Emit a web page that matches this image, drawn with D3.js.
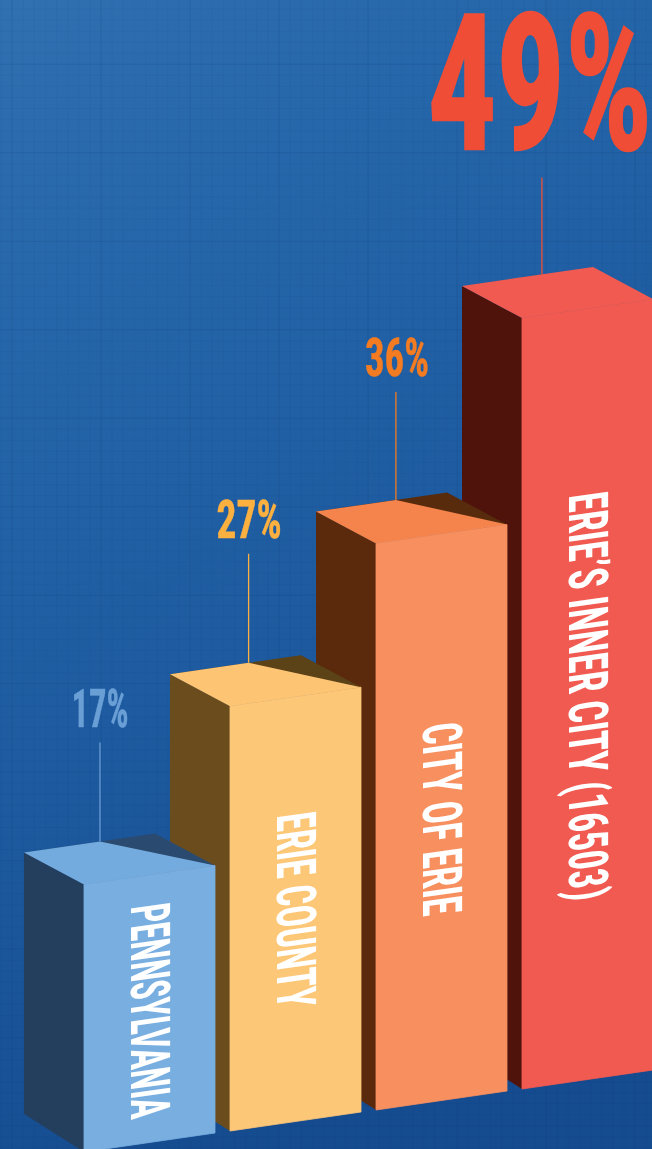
<!DOCTYPE html>
<html><head><meta charset="utf-8">
<script src="https://cdn.jsdelivr.net/npm/d3@7"></script>
<style>html,body{margin:0;padding:0;background:#1c5a9f}svg{display:block;filter:blur(0.35px)}</style>
</head><body><div id="chart"></div>
<script>
const categories = ["Pennsylvania", "Erie County", "City of Erie", "Inner City"];
const barLabels = ["PENNSYLVANIA", "ERIE COUNTY", "CITY OF ERIE", "ERIE\u2019S INNER CITY (16503)"];
const values = [17, 27, 36, 49];
const valueLabels = ["17%", "27%", "36%", "49%"];
const frontColors = ["#78aee0", "#fdc778", "#f78f5f", "#f15a50"];
const topColors = ["#74abdf", "#fdc473", "#f5844c", "#f15a50"];
const sideColors = ["#243f5e", "#6b4d1d", "#5b2a0c", "#4f130c"];
const wedgeColors = ["#2b4a6f", "#5c4217", "#582b0d", null];
const labelColors = ["#6a9fd6", "#fbb040", "#f37b21", "#f04d36"];

const W = 652, H = 1149;
const svg = d3.select("#chart").append("svg").attr("width", W).attr("height", H);
const defs = svg.append("defs");

// background
const bg = defs.append("linearGradient").attr("id", "bg")
  .attr("x1", 0).attr("y1", 0).attr("x2", 0.35).attr("y2", 1);
[[0, "#3170b1"], [0.25, "#2567aa"], [0.6, "#1e5ba0"], [1, "#154b8f"]].forEach(s =>
  bg.append("stop").attr("offset", s[0]).attr("stop-color", s[1]));
svg.append("rect").attr("width", W).attr("height", H).attr("fill", "url(#bg)");

const grid = svg.append("g").attr("stroke", "#123f7c").attr("fill", "none");
d3.range(1, W, 11.125).forEach((x, i) => grid.append("line").attr("x1", x).attr("x2", x).attr("y1", 0).attr("y2", H)
  .attr("stroke-opacity", i % 8 === 1 ? 0.2 : 0.05));
d3.range(9, H, 11.06).forEach((y, i) => grid.append("line").attr("y1", y).attr("y2", y).attr("x1", 0).attr("x2", W)
  .attr("stroke-opacity", i % 8 === 5 ? 0.2 : 0.05));

// scales
const xFront = d3.scalePoint().domain(categories).range([84, 522]);
const yBase = d3.scalePoint().domain(categories).range([1152, 1089]);
const h = d3.scaleLinear().domain([0, 49]).range([0, 771]);

// oblique projection: u across the front, d towards the back
const WIDTH = 131, RISE = 19, DX = 60, DY = 32, BASE_DY = 38;
const RIDGES = [0.58, 0.6, 0.61, 0.61];
const topPt = (c, v, u, d) => [xFront(c) + u * WIDTH - d * DX, yBase(c) - h(v) - u * RISE - d * DY];
const basePt = (c, u, d) => [xFront(c) + u * WIDTH - d * DX, yBase(c) - u * RISE - d * BASE_DY];
const poly = pts => pts.map(p => p.join(",")).join(" ");

const idx = d3.range(categories.length);
const bars = svg.selectAll("g.bar").data(idx.slice().reverse()).join("g").attr("class", "bar");

const fontStack = "'Liberation Sans Narrow','Roboto Condensed','Liberation Sans',sans-serif";
const leaderGaps = [99, 109, 108, 97];
const valueWidths = [57, 65, 64, 224];
const valueCenters = [0, 0.5, 1, -2];
idx.forEach(i => {
  const c = categories[i], v = values[i];
  const ridge = topPt(c, v, RIDGES[i], 1);
  const big = i === categories.length - 1;
  const lineTop = ridge[1] - leaderGaps[i];
  svg.insert("line", "g.bar").attr("x1", ridge[0]).attr("x2", ridge[0])
    .attr("y1", lineTop).attr("y2", ridge[1])
    .attr("stroke", labelColors[i]).attr("stroke-width", 1.3);
  const t = svg.append("text").text(valueLabels[i])
    .attr("text-anchor", "middle")
    .attr("font-family", fontStack).attr("font-weight", 700)
    .attr("font-size", big ? 190 : 54)
    .attr("fill", labelColors[i])
    .attr("stroke", labelColors[i]).attr("stroke-width", big ? 2.5 : 0.5);
  const sx = valueWidths[i] / t.node().getComputedTextLength();
  t.attr("transform", `translate(${ridge[0] + valueCenters[i]},${big ? lineTop - 28 : lineTop - 15.5}) scale(${sx},1)`);
});

const labelOffsets = [22, 109, 182, 177];
const labelLengths = [214, 195, 192, 408];
bars.each(function (i) {
  const g = d3.select(this), c = categories[i], v = values[i];
  // side face
  g.append("polygon").attr("fill", sideColors[i]).attr("points", poly([
    topPt(c, v, 0, 1), topPt(c, v, 0, 0), basePt(c, 0, 0), basePt(c, 0, 1)]));
  // top face
  g.append("polygon").attr("fill", wedgeColors[i] || topColors[i]).attr("points", poly([
    topPt(c, v, 0, 1), topPt(c, v, 1, 1), topPt(c, v, 1, 0), topPt(c, v, 0, 0)]));
  if (wedgeColors[i]) {
    g.append("polygon").attr("fill", topColors[i]).attr("points", poly([
      topPt(c, v, 0, 1), topPt(c, v, RIDGES[i], 1), topPt(c, v, 1, 0), topPt(c, v, 0, 0)]));
  }
  // front face
  g.append("polygon").attr("fill", frontColors[i])
    .attr("stroke", frontColors[i]).attr("stroke-width", 0.8).attr("stroke-linejoin", "round")
    .attr("points", poly([
      topPt(c, v, 0, 0), topPt(c, v, 1, 0), basePt(c, 1, 0), basePt(c, 0, 0)]));
  // label lying on the front plane
  const bx = xFront(c) + 47, by = yBase(c) - h(v) + labelOffsets[i];
  const t = g.append("text").text(barLabels[i])
    .attr("font-family", fontStack).attr("font-weight", 700).attr("font-size", 55)
    .attr("fill", "#fff");
  const sx = labelLengths[i] / t.node().getComputedTextLength();
  t.attr("transform", `matrix(0,${sx},-1,0.14,${bx},${by})`);
});
</script></body></html>
